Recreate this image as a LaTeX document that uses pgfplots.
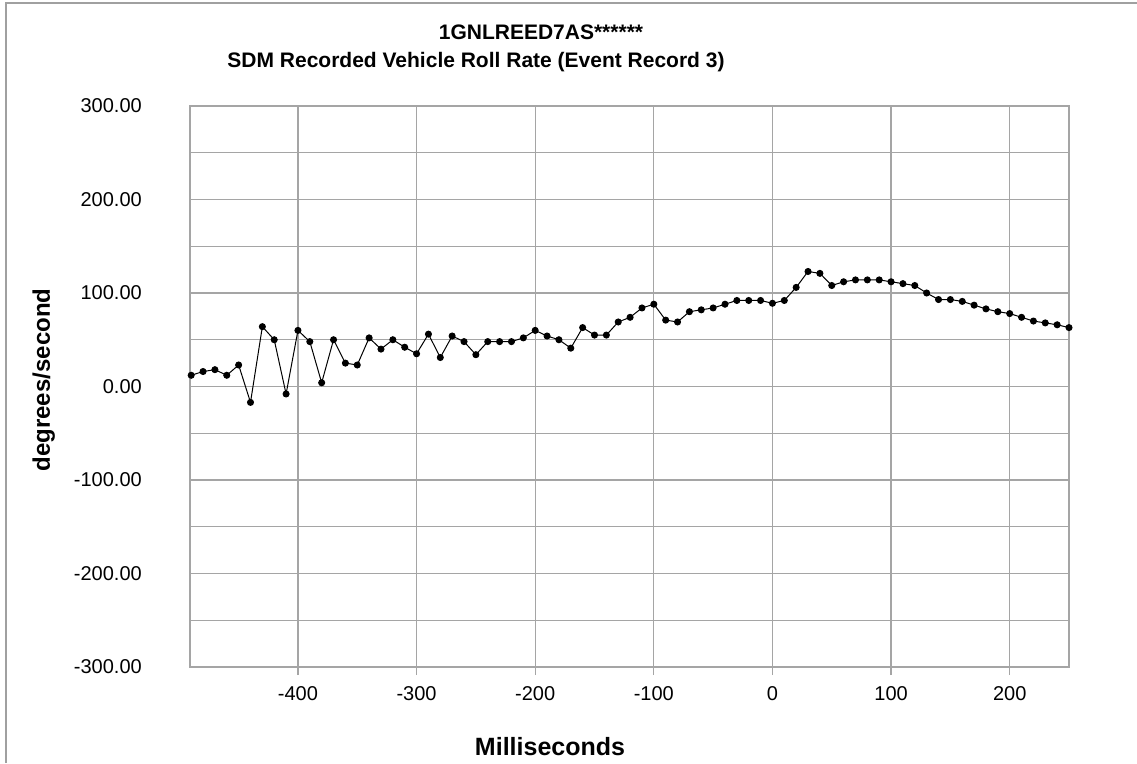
\documentclass[border=0pt]{standalone}
\usepackage{fontspec}
\setmainfont{Liberation Sans}
\usepackage{pgfplots}
\pgfplotsset{compat=1.18}
\definecolor{gridgray}{RGB}{165,165,165}
\definecolor{framegray}{RGB}{160,160,160}

\pgfplotstableread{
ms rate
-490 12
-480 16
-470 18
-460 12
-450 23
-440 -17
-430 64
-420 50
-410 -8
-400 60
-390 48
-380 4
-370 50
-360 25
-350 23
-340 52
-330 40
-320 50
-310 42
-300 35
-290 56
-280 31
-270 54
-260 48
-250 34
-240 48
-230 48
-220 48
-210 52
-200 60
-190 54
-180 50
-170 41
-160 63
-150 55
-140 55
-130 69
-120 74
-110 84
-100 88
-90 71
-80 69
-70 80
-60 82
-50 84
-40 88
-30 92
-20 92
-10 92
0 89
10 92
20 106
30 123
40 121
50 108
60 112
70 114
80 114
90 114
100 112
110 110
120 108
130 100
140 93
150 93
160 91
170 87
180 83
190 80
200 78
210 74
220 70
230 68
240 66
250 63
}\rolldata

\begin{document}
\begin{tikzpicture}[x=1pt,y=1pt]
\useasboundingbox (0,0) rectangle (1137,763);
% chart area border, cut off at right and bottom
\draw[framegray, line width=2pt] (6,0) -- (6,760) -- (1137,760);

\begin{axis}[
  at={(190pt,96pt)}, anchor=south west,
  width=879pt, height=561pt, scale only axis,
  xmin=-491, xmax=250, ymin=-300, ymax=300,
  xtick={-400,-300,...,200},
  ytick={-300,-200,...,300},
  minor ytick={-250,-150,...,250},
  grid=both,
  major grid style={gridgray, line width=1.3pt},
  minor grid style={gridgray, line width=1.3pt},
  axis line style={gridgray, line width=1.3pt},
  tick align=outside,
  xtick pos=bottom,
  major tick length=8pt,
  minor tick length=0pt,
  xtick style={gridgray, line width=1.3pt},
  ytick style={draw=none},
  /pgf/number format/assume math mode=true,
  ticklabel style={font=\fontsize{20}{24}\selectfont, inner sep=0pt},
  yticklabel style={anchor=east, xshift=-40pt,
    /pgf/number format/.cd, fixed, fixed zerofill, precision=2},
  xticklabel style={anchor=north, yshift=-11pt},
  clip=false,
]
\addplot[black, line width=1pt, mark=*, mark size=3pt] table[x=ms, y=rate] {\rolldata};
\end{axis}

\node[font=\bfseries\fontsize{21}{25}\selectfont, anchor=base] at (541,723) {1GNLREED7AS******};
\node[font=\bfseries\fontsize{21}{25}\selectfont, anchor=base] at (476,695) {SDM Recorded Vehicle Roll Rate (Event Record 3)};
\node[font=\bfseries\fontsize{25}{30}\selectfont, anchor=base] at (550,8) {Milliseconds};
\node[font=\bfseries\fontsize{24}{28}\selectfont, anchor=base, rotate=90] at (50,383) {degrees/second};
\end{tikzpicture}
\end{document}
